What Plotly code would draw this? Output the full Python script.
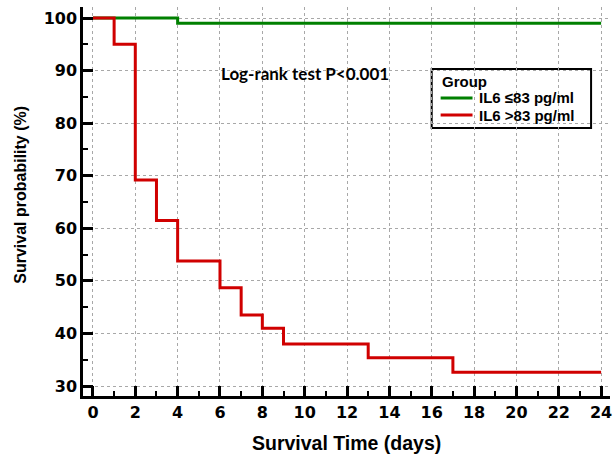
import plotly.graph_objects as go

# Kaplan-Meier step data
group_names = ["IL6 ≤83 pg/ml", "IL6 >83 pg/ml"]
group_colors = ["#008000", "#d00000"]

days_low = [0, 4, 24]
surv_low = [100, 99, 99]

days_high = [0, 1, 2, 3, 4, 6, 7, 8, 9, 13, 17, 24]
surv_high = [100, 95, 69.2, 61.5, 53.8, 48.7, 43.5, 41.0, 38.0, 35.4, 32.6, 32.6]

x_ticks = list(range(0, 25, 2))
y_ticks = list(range(30, 101, 10))

# plot area in pixels (for placing paper-referenced decorations)
L, R, T, B = 83, 612, 7, 396
def px(x):
    return (x - L) / (R - L)
def py(y):
    return 1 - (y - T) / (B - T)

fig = go.Figure()
fig.add_trace(go.Scatter(x=days_low, y=surv_low, mode="lines", line_shape="hv",
                         line=dict(color=group_colors[0], width=3), name=group_names[0],
                         showlegend=False))
fig.add_trace(go.Scatter(x=days_high, y=surv_high, mode="lines", line_shape="hv",
                         line=dict(color=group_colors[1], width=3), name=group_names[1],
                         showlegend=False))

fig.add_annotation(x=10, y=89.5, text="<b>Log-rank test P<0.001</b>", showarrow=False,
                   font=dict(family="Lato", size=17, color="black"))

# Legend box
fig.add_shape(type="rect", xref="paper", yref="paper", x0=px(433), x1=px(593), y0=py(128), y1=py(69),
              line=dict(color="black", width=2), fillcolor="white", layer="between")
fig.add_annotation(xref="paper", yref="paper", x=px(441), y=py(81), xanchor="left", yanchor="middle",
                   text="<b>Group</b>", showarrow=False,
                   font=dict(family="Liberation Sans", size=15, color="black"))
for i, (nm, col) in enumerate(zip(group_names, group_colors)):
    yy = 98 + 17 * i
    fig.add_shape(type="line", xref="paper", yref="paper", x0=px(442), x1=px(474), y0=py(yy), y1=py(yy),
                  line=dict(color=col, width=3), layer="above")
    fig.add_annotation(xref="paper", yref="paper", x=px(478), y=py(yy), xanchor="left", yanchor="middle",
                       text=f"<b>{nm}</b>", showarrow=False,
                       font=dict(family="Liberation Sans", size=15, color="black"))

# Axis titles
fig.add_annotation(xref="paper", yref="paper", x=px(348), y=py(443), xanchor="center", yanchor="middle",
                   text="<b>Survival Time (days)</b>", showarrow=False,
                   font=dict(family="Liberation Sans", size=19.5, color="black"))
fig.add_annotation(xref="paper", yref="paper", x=px(20), y=py(194.5), xanchor="center", yanchor="middle",
                   text="<b>Survival probability (%)</b>", showarrow=False, textangle=-90,
                   font=dict(family="Liberation Sans", size=16, color="black"))

axis_font = dict(family="DejaVu Sans", size=16, color="black")
fig.update_layout(
    width=614, height=456,
    margin=dict(l=L, r=614 - R, t=T, b=456 - B),
    plot_bgcolor="white", paper_bgcolor="white",
    showlegend=False,
    xaxis=dict(range=[-0.47, 24.42], tickvals=x_ticks, ticktext=[f"<b>{v}</b>" for v in x_ticks],
               ticks="inside", ticklen=10, tickwidth=2.5, tickcolor="black",
               minor=dict(dtick=1, tick0=0, ticks="inside", ticklen=5, tickwidth=2, tickcolor="black", showgrid=False),
               showline=True, linecolor="black", linewidth=2.5,
               showgrid=True, gridcolor="#a8a8a8", griddash="dot", gridwidth=1,
               zeroline=False, tickfont=axis_font, ticklabeloverflow="allow"),
    yaxis=dict(range=[28.1, 102.1], tickvals=y_ticks, ticktext=[f"<b>{v}</b>" for v in y_ticks],
               ticks="inside", ticklen=10, tickwidth=2.5, tickcolor="black",
               minor=dict(dtick=5, tick0=0, ticks="inside", ticklen=5, tickwidth=2, tickcolor="black", showgrid=False),
               showline=True, linecolor="black", linewidth=2.5,
               showgrid=True, gridcolor="#a8a8a8", griddash="dot", gridwidth=1,
               zeroline=False, tickfont=axis_font, ticklabeloverflow="allow"),
)

fig.write_html("out.html")
